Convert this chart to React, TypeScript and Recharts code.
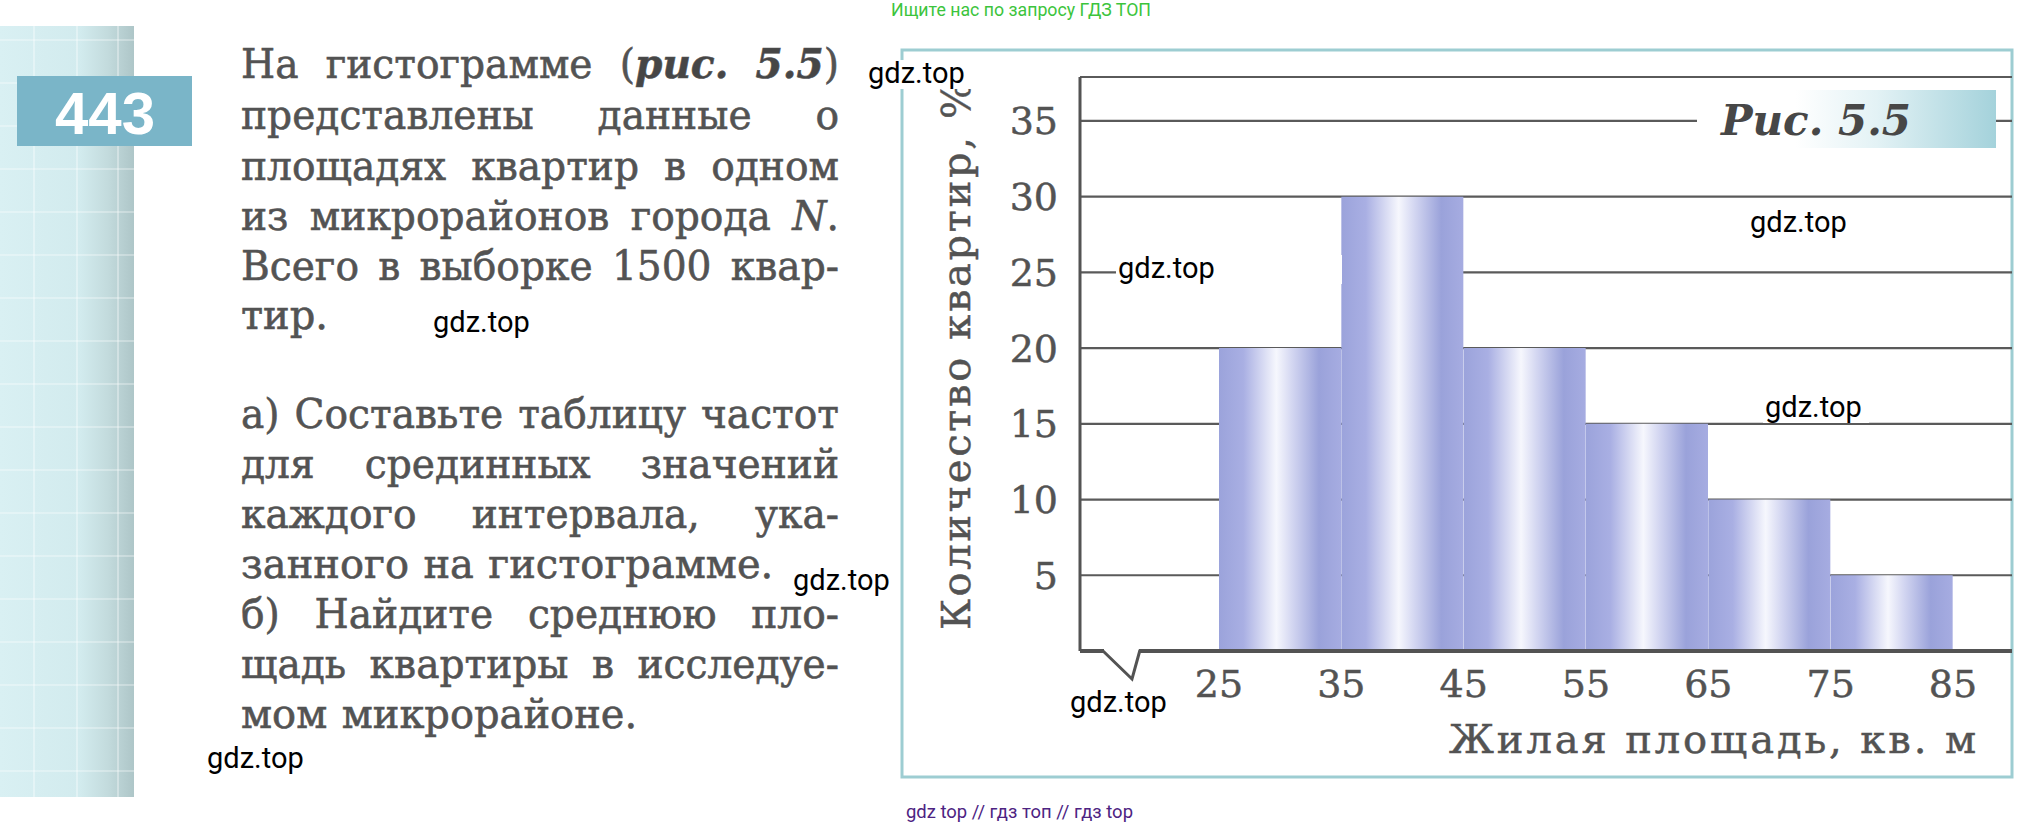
import React from 'react'
import { BarChart, Bar, XAxis, YAxis, CartesianGrid } from 'recharts'

// histogram: living area intervals (sq. m) and share of flats, %
const BINS = ['25–35', '35–45', '45–55', '55–65', '65–75', '75–85']
const SHARES = [20, 30, 20, 15, 10, 5]
const EDGE_TICKS = [25, 35, 45, 55, 65, 75, 85]
const SHARE_TICKS = [5, 10, 15, 20, 25, 30, 35]
const X_TITLE = 'Жилая площадь, кв. м'
const Y_TITLE = 'Количество квартир, %'
const FIG_CAPTION = 'Рис. 5.5'
const TASK_NO = '443'

const data = BINS.map((bin, i) => ({ bin, share: SHARES[i] }))

const INK = '#535353'
const TEXT_INK = '#535353'
const SERIF = '"DejaVu Serif", serif'
const SANS = 'Roboto, sans-serif'

// x, baseline, width of the white patch behind the watermark
const WATERMARKS = [
  [868, 83, 106], [433, 332, 106], [1118, 278, 226], [1750, 232, 106],
  [1765, 417, 106], [793, 590, 104], [1070, 712, 106], [207, 768, 106],
]

type Word = React.ReactNode

function TextLine({ baseline, words, justify = true }: { baseline: number; words: Word[]; justify?: boolean }) {
  const squeeze = justify ? 0.955 : 0.975
  return (
    <div
      style={{
        position: 'absolute',
        left: 241,
        top: baseline - 39,
        width: justify ? 598 / squeeze : 'max-content',
        height: 50,
        lineHeight: '50px',
        fontSize: 41,
        fontFamily: SERIF,
        color: TEXT_INK,
        WebkitTextStroke: `0.6px ${TEXT_INK}`,
        whiteSpace: 'pre',
        display: 'flex',
        justifyContent: justify ? 'space-between' : 'flex-start',
        gap: justify ? 0 : '0.36em',
        transform: `scaleX(${squeeze})`,
        transformOrigin: '0 0',
      }}
    >
      {words.map((w, i) => (
        <span key={i}>{w}</span>
      ))}
    </div>
  )
}

const bi = (s: string) => <b style={{ fontStyle: 'italic', color: '#464646' }}>{s}</b>

function PageText() {
  return (
    <>
      <TextLine baseline={78} words={['На', 'гистограмме', <>({bi('рис.')}</>, <>{bi('5.5')})</>]} />
      <TextLine baseline={129} words={['представлены', 'данные', 'о']} />
      <TextLine baseline={180} words={['площадях', 'квартир', 'в', 'одном']} />
      <TextLine baseline={230} words={['из', 'микрорайонов', 'города', <><i>N</i>.</>]} />
      <TextLine baseline={280} words={['Всего', 'в', 'выборке', '1500', 'квар-']} />
      <TextLine baseline={329} words={['тир.']} justify={false} />
      <TextLine baseline={428} words={['а)', 'Составьте', 'таблицу', 'частот']} />
      <TextLine baseline={478} words={['для', 'срединных', 'значений']} />
      <TextLine baseline={528} words={['каждого', 'интервала,', 'ука-']} />
      <TextLine baseline={578} words={['занного', 'на', 'гистограмме.']} justify={false} />
      <TextLine baseline={628} words={['б)', 'Найдите', 'среднюю', 'пло-']} />
      <TextLine baseline={678} words={['щадь', 'квартиры', 'в', 'исследуе-']} />
      <TextLine baseline={728} words={['мом', 'микрорайоне.']} justify={false} />
    </>
  )
}

function Backdrop() {
  const gridY = Array.from({ length: 18 }, (_, i) => 40 + i * 43)
  return (
    <svg width={2041} height={826} style={{ position: 'absolute', left: 0, top: 0 }}>
      <defs>
        <linearGradient id="strip" x1="0" x2="1" y1="0" y2="0">
          <stop offset="0" stopColor="#d9f0f3" />
          <stop offset="0.6" stopColor="#d2ebee" />
          <stop offset="0.8" stopColor="#c3dbdd" />
          <stop offset="1" stopColor="#aec6c8" />
        </linearGradient>
      </defs>
      <rect x={0} y={26} width={134} height={771} fill="url(#strip)" />
      {[34, 77, 118].map((x) => (
        <line key={x} x1={x} x2={x} y1={26} y2={797} stroke="#fff" strokeOpacity={0.35} strokeWidth={2} />
      ))}
      {gridY.map((y) => (
        <line key={y} x1={0} x2={134} y1={y} y2={y} stroke="#fff" strokeOpacity={0.3} strokeWidth={2} />
      ))}
      <rect x={17} y={76} width={175} height={70} fill="#7ab5c8" />
      <text x={105} y={134} textAnchor="middle" fill="#fff" fontSize={60} fontWeight={700} fontFamily='"Liberation Sans", Arial, sans-serif'>
        {TASK_NO}
      </text>
      <text x={891} y={16} fill="#3cc43c" fontSize={18} fontFamily={SANS} textLength={260} lengthAdjust="spacingAndGlyphs">
        Ищите нас по запросу ГДЗ ТОП
      </text>
      <text x={906} y={818} fill="#4d2382" fontSize={19} fontFamily={SANS} textLength={227} lengthAdjust="spacingAndGlyphs">
        gdz top  //  гдз топ  //  гдз top
      </text>
      <rect x={902} y={50} width={1110} height={727} fill="none" stroke="#9dcdd2" strokeWidth={3} />
    </svg>
  )
}

const tickStyle = { fill: INK, fontSize: 38, fontFamily: SERIF, stroke: INK, strokeWidth: 0.5 }

// bins sit between edge values: label each band's left edge, and the right edge of the last one
function EdgeTick(props: any) {
  const { x, y, payload, index } = props
  const half = payload?.offset ?? 0
  return (
    <g>
      <text x={x - half} y={y} dy="0.71em" textAnchor="middle" {...tickStyle}>
        {EDGE_TICKS[index]}
      </text>
      {index === BINS.length - 1 && (
        <text x={x + half} y={y} dy="0.71em" textAnchor="middle" {...tickStyle}>
          {EDGE_TICKS[index + 1]}
        </text>
      )}
    </g>
  )
}

function Overlay() {
  const title = { fill: INK, fontSize: 40, fontFamily: SERIF, stroke: INK, strokeWidth: 0.5 }
  return (
    <svg width={2041} height={826} style={{ position: 'absolute', left: 0, top: 0, pointerEvents: 'none' }}>
      <defs>
        <linearGradient id="figBox" x1="0" x2="1" y1="0" y2="0">
          <stop offset="0" stopColor="#ffffff" />
          <stop offset="0.33" stopColor="#ffffff" />
          <stop offset="0.6" stopColor="#e3f2f5" />
          <stop offset="1" stopColor="#a4d2db" />
        </linearGradient>
      </defs>
      {/* axis break mark on the baseline */}
      <rect x={1104} y={645} width={35} height={10} fill="#fff" />
      <polyline points="1102,650 1132,679 1140,650" fill="none" stroke={INK} strokeWidth={3} />

      <rect x={1697} y={90} width={299} height={58} fill="url(#figBox)" />
      <text x={1721} y={135} fill="#474747" fontSize={42} fontWeight={700} fontStyle="italic" fontFamily={SERIF}>
        {FIG_CAPTION}
      </text>

      <text x={1449} y={753} {...title} textLength={527} lengthAdjust="spacing">
        {X_TITLE}
      </text>
      <text transform="translate(970,630) rotate(-90)" {...title} textLength={549} lengthAdjust="spacing">
        {Y_TITLE}
      </text>

      {WATERMARKS.map(([x, y, w], i) => (
        <g key={i}>
          <rect x={x - 2} y={y - 23} width={w} height={29} fill="#fff" />
          <text x={x} y={y} fill="#000" fontSize={29} fontFamily={SANS}>
            gdz.top
          </text>
        </g>
      ))}
    </svg>
  )
}

export default function App() {
  return (
    <div style={{ position: 'absolute', left: 0, top: 0, width: 2041, height: 826, background: '#fff', overflow: 'hidden' }}>
      <Backdrop />
      <PageText />
      <div style={{ position: 'absolute', left: 0, top: 0 }}>
        <BarChart
          width={2041}
          height={826}
          data={data}
          margin={{ top: 77, right: 29, bottom: 115, left: 1010 }}
          barCategoryGap={0}
          barGap={0}
        >
          <defs>
            <linearGradient id="barShade" x1="0" x2="1" y1="0" y2="0">
              <stop offset="0" stopColor="#9ba3db" />
              <stop offset="0.2" stopColor="#a9afe3" />
              <stop offset="0.47" stopColor="#f6f7fd" />
              <stop offset="0.6" stopColor="#d3d6f1" />
              <stop offset="0.82" stopColor="#9aa2da" />
              <stop offset="1" stopColor="#a6ace1" />
            </linearGradient>
          </defs>
          <CartesianGrid vertical={false} stroke="#5a5a5a" strokeWidth={2.2} />
          <XAxis
            dataKey="bin"
            interval={0}
            padding={{ left: 139, right: 59 }}
            height={60}
            axisLine={{ stroke: INK, strokeWidth: 4 }}
            tickLine={false}
            tickSize={0}
            tickMargin={19}
            tick={<EdgeTick />}
          />
          <YAxis
            domain={[0, 37.9]}
            ticks={SHARE_TICKS}
            interval={0}
            allowDataOverflow
            width={70}
            axisLine={{ stroke: INK, strokeWidth: 3 }}
            tickLine={false}
            tickSize={0}
            tickMargin={22}
            tick={tickStyle}
          />
          <Bar dataKey="share" fill="url(#barShade)" isAnimationActive={false} />
        </BarChart>
      </div>
      <Overlay />
    </div>
  )
}
